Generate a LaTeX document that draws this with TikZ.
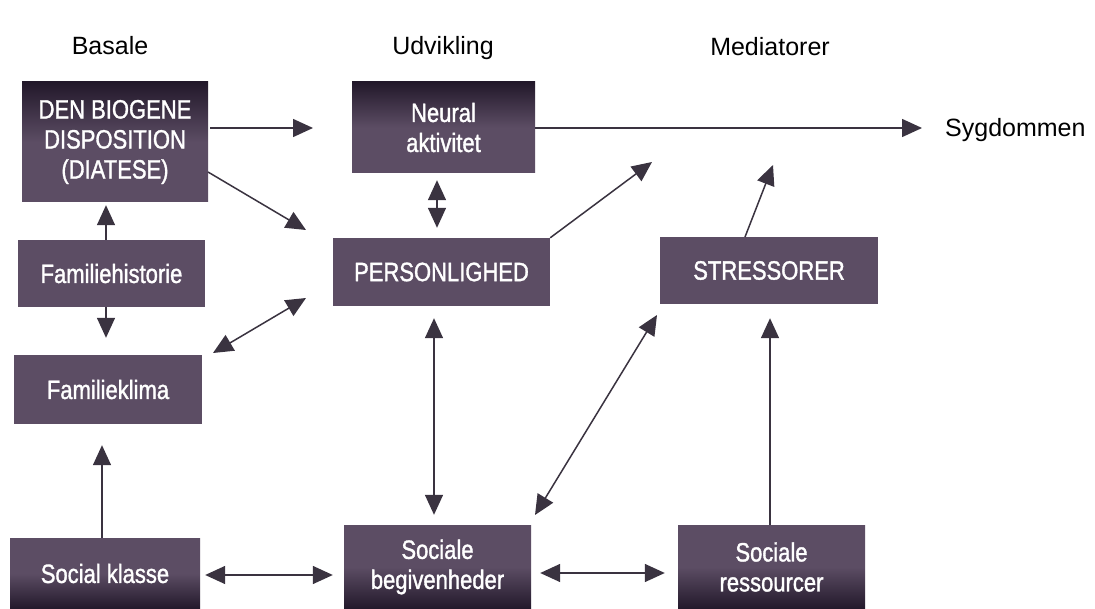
\documentclass[tikz,border=0pt]{standalone}
\usepackage{fontspec}
\setmainfont{Liberation Sans}
\newfontfamily\boxfont{Liberation Sans}[FakeStretch=0.83, FakeBold=1.3]
\usetikzlibrary{arrows.meta}
\definecolor{boxc}{HTML}{5C4D64}
\definecolor{boxdark}{HTML}{22182A}
\definecolor{linec}{HTML}{3A3340}
\tikzset{
  box/.style={rectangle, fill=boxc, text=white, inner sep=0pt, align=center,
    font=\boxfont\fontsize{26.5}{30}\selectfont},
  darktop/.style={top color=boxdark, bottom color=boxc, middle color=boxc},
  darkbot/.style={top color=boxc, bottom color=boxdark, middle color=boxc},
  head/.style={font=\fontsize{25}{30}\selectfont, text=black, inner sep=0pt, anchor=base},
  arr/.style={draw=linec, line width=1.5pt, -{Triangle[length=20pt,width=18pt]}},
  darr/.style={draw=linec, line width=1.5pt, {Triangle[length=20pt,width=18pt]}-{Triangle[length=20pt,width=18pt]}}
}
\begin{document}
\begin{tikzpicture}[x=1pt,y=-1pt]
\useasboundingbox (0,0) rectangle (1095,609);
\fill[white] (0,0) rectangle (1095,609);
% headings
\node[head] (hbas) at (110,55) {Basale};
\node[head] (hudv) at (443,55) {Udvikling};
\node[head] (hmed) at (770,56) {Mediatorer};
\node[head, anchor=base west] (syg) at (945,137) {Sygdommen};
% boxes
\node[box, darktop, minimum width=186pt, minimum height=120pt] (bio) at (115,142) {DEN BIOGENE\\DISPOSITION\\(DIATESE)};
\node[box, minimum width=187pt, minimum height=67pt] (fhist) at (111.5,273.5) {Familiehistorie};
\node[box, minimum width=188pt, minimum height=69pt] (fklima) at (108,389.5) {Familieklima};
\node[box, darkbot, minimum width=190pt, minimum height=71pt] (sklasse) at (105,573.5) {Social klasse};
\node[box, darktop, minimum width=183pt, minimum height=91pt] (neural) at (443.5,127.5) {Neural\\aktivitet};
\node[box, minimum width=217pt, minimum height=68pt] (pers) at (441.5,272) {PERSONLIGHED};
\node[box, minimum width=218pt, minimum height=67pt] (stress) at (769,270.5) {STRESSORER};
\node[box, darkbot, minimum width=187pt, minimum height=84pt] (sbeg) at (437.5,567) {Sociale\\begivenheder};
\node[box, darkbot, minimum width=187pt, minimum height=84pt] (sres) at (771.5,567) {Sociale\\ressourcer};
% free arrow ends
\coordinate (a1s) at (210,128); \coordinate (a1e) at (313,128);
\coordinate (a2s) at (208,172); \coordinate (a2e) at (306,230);
\coordinate (a5s) at (306,298); \coordinate (a5e) at (213,353);
\coordinate (a8e) at (652,162);
\coordinate (a9s) at (745,237); \coordinate (a9e) at (773,165);
\coordinate (a11s) at (535,515); \coordinate (a11e) at (657,315);
% connectors
\draw[arr] (a1s) -- (a1e);
\draw[arr] (a2s) -- (a2e);
\draw[arr, shorten >=3pt] (fhist.north -| 106,0) -- (bio.south -| 106,0);
\draw[arr, shorten >=17pt] (fhist.south -| 106,0) -- (fklima.north -| 106,0);
\draw[darr] (a5s) -- (a5e);
\draw[darr, shorten <=7pt, shorten >=10pt] (neural.south -| 437,0) -- (pers.north -| 437,0);
\draw[arr, shorten >=23pt] (neural.east |- 0,128) -- (syg.west |- 0,128);
\draw[arr] (pers.north east) -- (a8e);
\draw[arr] (a9s) -- (a9e);
\draw[darr, shorten <=12pt, shorten >=10pt] (pers.south -| 434,0) -- (sbeg.north -| 434,0);
\draw[darr] (a11s) -- (a11e);
\draw[arr, shorten >=21pt] (sklasse.north -| 102,0) -- (fklima.south -| 102,0);
\draw[darr, shorten <=5pt, shorten >=11pt] (sklasse.east |- 0,575) -- (sbeg.west |- 0,575);
\draw[darr, shorten <=9pt, shorten >=13pt] (sbeg.east |- 0,573) -- (sres.west |- 0,573);
\draw[arr, shorten >=14pt] (sres.north -| 770,0) -- (stress.south -| 770,0);
\end{tikzpicture}
\end{document}
